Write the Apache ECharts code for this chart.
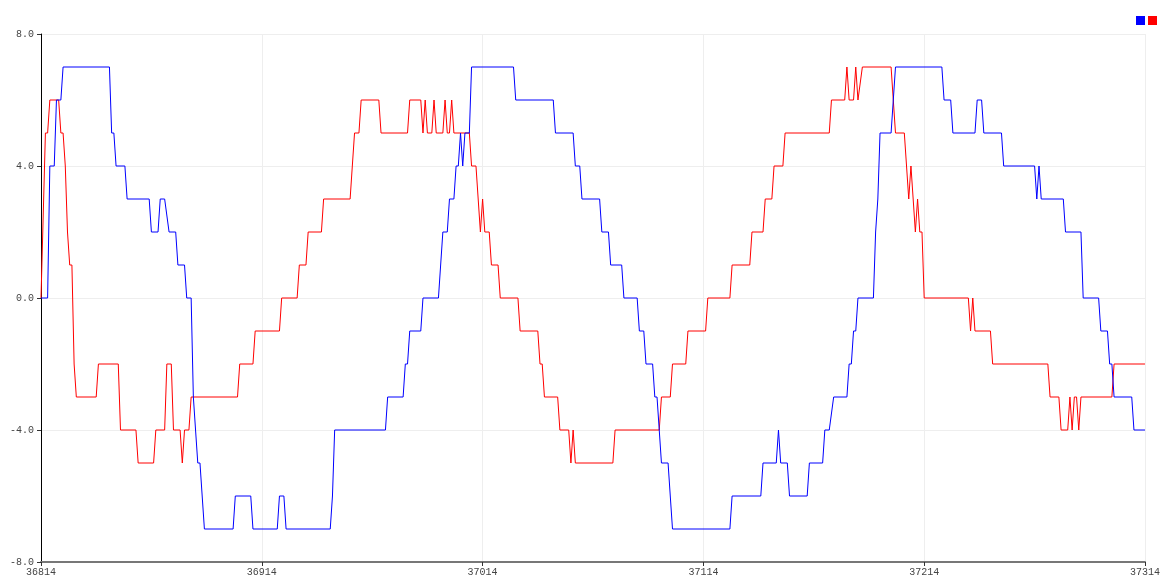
<!DOCTYPE html>
<html>
<head>
<meta charset="utf-8">
<script src="https://cdn.jsdelivr.net/npm/echarts@6/dist/echarts.min.js"></script>
<style>
html,body{margin:0;padding:0;background:#fff;}
#chart{width:1163px;height:578px;}
</style>
</head>
<body>
<div id="chart"></div>
<script>
// x range and ticks
const xMin = 36814;
const xMax = 37314;
const xTickStep = 100;
const yTicks = [-8, -4, 0, 4, 8];

// Blue series vertices (x, y)
const blueX = [36814,36817,36818,36820,36821,36823,36824,36845,36846,36847,36848,36852,36853,36863,36864,36867,36868,36870,36872,36875,36876,36879,36880,36882,36883,36884,36885,36886,36887,36888,36901,36902,36909,36910,36921,36922,36924,36925,36945,36946,36947,36970,36971,36978,36979,36980,36981,36986,36987,36994,36995,36996,36998,36999,37001,37002,37003,37004,37005,37006,37008,37009,37028,37029,37046,37047,37055,37056,37058,37059,37067,37068,37071,37072,37077,37078,37084,37085,37087,37088,37091,37092,37093,37094,37095,37098,37099,37100,37126,37127,37140,37141,37147,37148,37149,37152,37153,37161,37162,37168,37169,37171,37173,37179,37180,37181,37182,37183,37184,37191,37192,37193,37194,37199,37200,37201,37222,37223,37226,37227,37237,37238,37240,37241,37249,37250,37264,37265,37266,37267,37277,37278,37285,37286,37293,37294,37297,37298,37299,37300,37308,37309,37314];
const blueY = [0,0,4,4,6,6,7,7,5,5,4,4,3,3,2,2,3,3,2,2,1,1,0,0,-3,-4,-5,-5,-6,-7,-7,-6,-6,-7,-7,-6,-6,-7,-7,-6,-4,-4,-3,-3,-2,-2,-1,-1,0,0,1,2,2,3,3,4,4,5,4,5,5,7,7,6,6,5,5,4,4,3,3,2,2,1,1,0,0,-1,-1,-2,-2,-3,-3,-4,-5,-5,-6,-7,-7,-6,-6,-5,-5,-4,-5,-5,-6,-6,-5,-5,-4,-4,-3,-3,-2,-2,-1,-1,0,0,2,3,5,5,6,7,7,6,6,5,5,6,6,5,5,4,4,3,4,3,3,2,2,0,0,-1,-1,-2,-2,-3,-3,-4,-4];

// Red series vertices (x, y)
const redX = [36814,36816,36817,36818,36822,36823,36824,36825,36826,36827,36828,36829,36830,36839,36840,36849,36850,36857,36858,36865,36866,36870,36871,36873,36874,36877,36878,36879,36881,36882,36903,36904,36910,36911,36922,36923,36930,36931,36934,36935,36941,36942,36954,36955,36956,36958,36959,36967,36968,36980,36981,36986,36987,36988,36989,36991,36992,36993,36996,36997,36998,36999,37000,37001,37008,37009,37011,37012,37013,37014,37015,37017,37018,37021,37022,37030,37031,37039,37040,37041,37042,37048,37049,37053,37054,37055,37056,37073,37074,37094,37095,37099,37100,37106,37107,37115,37116,37126,37127,37135,37136,37141,37142,37145,37146,37150,37151,37171,37172,37178,37179,37180,37182,37183,37184,37186,37199,37200,37201,37205,37206,37207,37208,37209,37210,37211,37212,37213,37214,37234,37235,37236,37237,37244,37245,37270,37271,37275,37276,37279,37280,37281,37282,37283,37284,37285,37299,37300,37314];
const redY = [0,5,5,6,6,5,5,4,2,1,1,-2,-3,-3,-2,-2,-4,-4,-5,-5,-4,-4,-2,-2,-4,-4,-5,-4,-4,-3,-3,-2,-2,-1,-1,0,0,1,1,2,2,3,3,4,5,5,6,6,5,5,6,6,5,6,5,5,6,5,5,6,5,5,6,5,5,4,4,3,2,3,2,2,1,1,0,0,-1,-1,-2,-2,-3,-3,-4,-4,-5,-4,-5,-5,-4,-4,-3,-3,-2,-2,-1,-1,0,0,1,1,2,2,3,3,4,4,5,5,6,6,7,6,6,7,6,7,7,6,5,5,4,3,4,3,2,3,2,2,0,0,-1,0,-1,-1,-2,-2,-3,-3,-4,-4,-3,-4,-3,-3,-4,-3,-3,-2,-2];

const zip = (xs, ys) => xs.map((x, i) => [x, ys[i]]);

const chart = echarts.init(document.getElementById('chart'), null, {renderer: 'canvas'});
const labelFont = {fontFamily: 'Liberation Mono', fontSize: 10, color: '#444'};
chart.setOption({
  animation: false,
  backgroundColor: '#ffffff',
  grid: {left: 41, right: 15, top: 34, bottom: 16, containLabel: false},
  legend: {
    right: 1, top: 11,
    itemWidth: 9, itemHeight: 9, itemGap: 3,
    icon: 'rect',
    formatter: () => '',
    data: ['Blue', 'Red']
  },
  xAxis: {
    type: 'value', min: xMin, max: xMax, interval: xTickStep,
    axisLine: {onZero: false, lineStyle: {color: '#777', width: 2}},
    axisTick: {show: true, length: 4, lineStyle: {color: '#333'}},
    axisLabel: Object.assign({margin: 5, formatter: v => String(v)}, labelFont),
    splitLine: {show: true, lineStyle: {color: '#eeeeee', width: 1}}
  },
  yAxis: {
    type: 'value', min: yTicks[0], max: yTicks[yTicks.length - 1], interval: yTicks[1] - yTicks[0],
    axisLine: {show: true, onZero: false, lineStyle: {color: '#000', width: 1}},
    axisTick: {show: true, length: 4, lineStyle: {color: '#333'}},
    axisLabel: Object.assign({margin: 7, formatter: v => v.toFixed(1)}, labelFont),
    splitLine: {show: true, lineStyle: {color: '#eeeeee', width: 1}}
  },
  series: [
    {name: 'Blue', type: 'line', data: zip(blueX, blueY), showSymbol: false, symbol: 'none',
     itemStyle: {color: '#0000ff'}, lineStyle: {color: '#0000ff', width: 1}, z: 3},
    {name: 'Red', type: 'line', data: zip(redX, redY), showSymbol: false, symbol: 'none',
     itemStyle: {color: '#ff0000'}, lineStyle: {color: '#ff0000', width: 1}, z: 2}
  ]
});
</script>
</body>
</html>
